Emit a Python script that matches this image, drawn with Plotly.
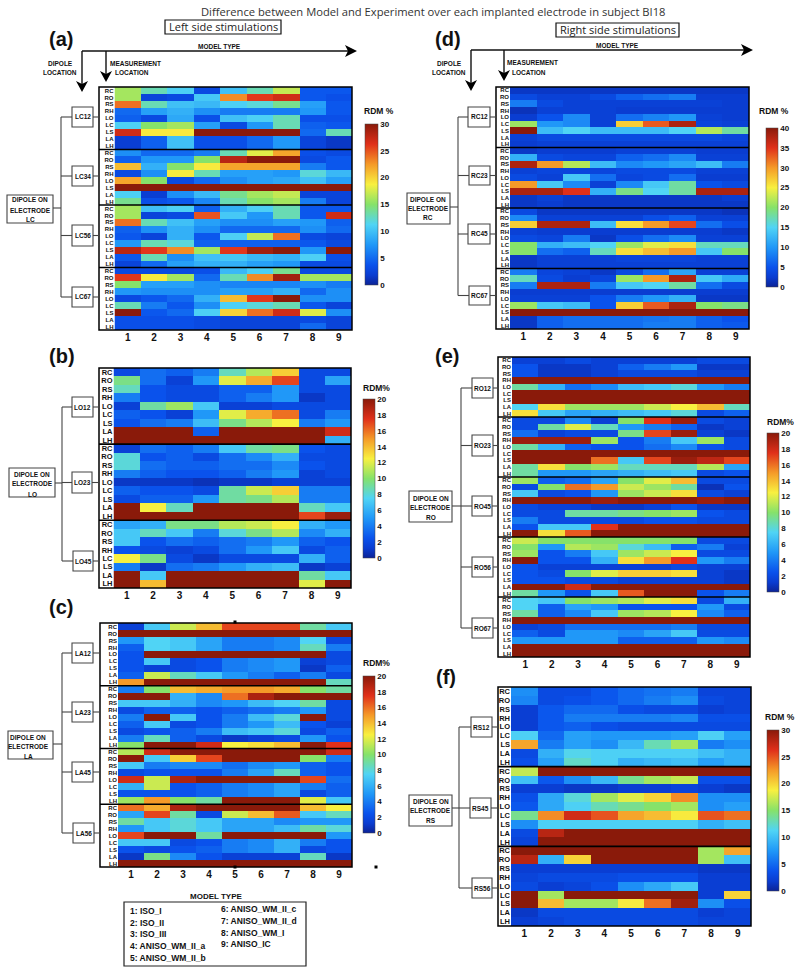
import plotly.graph_objects as go

W, H = 800, 974
title_text = "Difference between Model and Experiment over each implanted electrode in subject BI18"
model_cols = [1, 2, 3, 4, 5, 6, 7, 8, 9]
col_labels = ["1", "2", "3", "4", "5", "6", "7", "8", "9"]
FULL = ["RC", "RO", "RS", "RH", "LO", "LC", "LS", "LA", "LH"]
NO_LC = ["RC", "RO", "RS", "RH", "LO", "LS", "LA", "LH"]
NO_LO = ["RC", "RO", "RS", "RH", "LC", "LS", "LA", "LH"]
NO_LA = ["RC", "RO", "RS", "RH", "LO", "LC", "LS", "LH"]

rows_a = FULL + NO_LC + FULL + FULL
groups_a = [9, 8, 9, 9]
values_a = [
 [16,13,11,3,10,13,17,4,4],[16,2.5,3,10.5,23,26,27,4,3.5],[24,13,10,9.5,11,12,14,8,4],[5,8,9,7,6,6,6,7.5,4],
 [4.5,3,8.5,3.5,10,11,13,3.5,3.5],[11,15,16,8,3,7.5,13,4.5,4],[27,19,19,30,30,30,30,5,13],[2,4.5,10,3.5,3.5,5,7.5,2.5,1.5],[2,4.5,10,3.5,3.5,5,7.5,2.5,1.5],
 [7,5,5,6,13,18,22,3.5,3],[4.5,7.5,7.5,15,28,30,30,3,4],[21,9,15,19,22,22,22,6,4],[3,7,19,13,8,8,7.5,12,9.5],
 [22,15,3,5,7,8,8.5,10,8],[30,30,30,30,30,30,30,30,30],[11,2,7,9.5,14,16,17,2.5,2.5],[14,3.5,4,6.5,13,15,16,6,2.5],
 [16,10,11,4.5,9,11,13,4,4],[16,2.5,3,25,10.5,7.5,13,4,27],[24,13,10,8,7,7,8,7.5,4.5],[4.5,7,9,7,5,5,5,7,5],
 [4,2.5,9,4,11,17,24,3,2.5],[7.5,13,12,4.5,4.5,4.5,4.5,4,3],[28,26,23,16,26,29,30,7.5,30],[4,13,7,10,10.5,9.5,9,11,3.5],[2.5,5,8,9,9,8,7.5,3,3],
 [3,3,3,3.5,9.5,11,14,3,3],[26,19,16,5,13,23,29,16,16],[15,8,8,7,6.5,6.5,6.5,7,6],[7.5,7,7,7,8,8,9,5,7],
 [3,4,5,9,21,26,30,7,7],[13,6,4,7,11,12,13,4,2.5],[30,4,5,11,20,24,27,18,7],[3.5,3.5,3.5,3,2.5,2.5,2.5,3,2.5],[3.5,3.5,3.5,3,2.5,2.5,2.5,5,2.5],
]

rows_b = FULL + FULL + NO_LO
groups_b = [9, 9, 8]
values_b = [
 [2,3.5,3,4,8.5,11,13.5,2,2],[9.5,3.5,1.5,5,12,14.5,17,2,5.5],[8.5,2.5,2,2,3,3,5,2,2],[4,2.5,2,2,3,4,5,1,2],
 [1.5,9,10.5,7,1.5,1.5,2,2,2],[3,2.5,1.5,5,12,14.5,16,2,4],[2.5,3.5,4,6.5,9.5,11,12.5,4,5],[20,20,20,3,20,20,20,20,18],[20,20,20,20,20,20,20,20,6],
 [1.5,3.5,3,4,7,9,9.5,2.5,2],[8,2.5,3,2,3.5,4.5,6,2,2],[8,3.5,3,3,3.5,3.5,4.5,2.5,2],[4,3,2.5,2.5,3,4,5,1.5,2],
 [1,1,1,0.7,1,1,1.5,1.5,1.5],[3,2.5,2.5,2,9,11.5,13.5,4,4],[2,3,3,5,9,9.5,11,4,4],[20,12.5,8.5,20,20,20,20,8.5,7],[20,20,20,20,20,20,20,17,19.5],
 [5.5,6,9.5,9.5,11,11.5,12.5,6,5],[7,8.5,7,4,8,9.5,11,4.5,6],[7,2.5,3.5,3,3.5,4,5,3,2.5],[2.5,2,1.5,2,3.5,5,7,2,3],
 [12.5,9.5,2,1,2,2,2,6,3],[4,1,3.5,4,5,6,6.5,1,1.5],[20,7,20,20,20,20,20,9,7],[20,14,20,20,20,20,20,12,20],
]

rows_c = FULL + FULL + NO_LA + FULL
groups_c = [9, 9, 8, 9]
values_c = [
 [1.5,7,11.5,14,17,17,17,9,7],[20,20,20,20,20,20,20,20,20],[5,7.5,7,5.5,4,4,4.5,7.5,2],[3,7.5,7,5.5,4,4,4.5,8.5,4],
 [2.5,20,20,20,20,20,20,20,2],[2.5,7,2,2.5,4,4.5,5,1.5,2],[2.5,1.5,2,2.5,4,4.5,5,1,3],[3,11.5,8.5,7,5,4,3,4,2],[15,20,20,20,20,20,20,20,8.5],
 [4,10,14,14.5,15,15,14.5,10,9],[20,20,6,4.5,16,19,20,20,20],[7,7,6,4.5,5,6.5,7.5,9,2],[2,3,3,2.5,3,3.5,4,5,2],
 [4,20,7,2.5,4,6.5,8,20,2],[3,7,2,2.5,4,5,6.5,2.5,1.5],[2,2.5,3,4,6.5,7,8,2,3],[4,8.5,3,2,1,1.5,2,5,2.5],[10,20,20,18,12.5,13,14,20,17.5],
 [11,18,20,20,20,20,20,20,18],[20,7,13.5,17,20,20,20,10,4],[7,4,4.5,4.5,3.5,4.5,5,3,2.5],[2,2.5,2.5,2.5,4,5.5,8.5,3,2.5],
 [18,11.5,19,20,20,20,20,17,3.5],[6,11.5,2.5,3,4,4.5,5.5,4,3],[2.5,2.5,2.5,3,4,4.5,5.5,2,3],[10.5,15,10,9,20,20,20,12,7],
 [16,14.5,19,20,20,20,20,14,12.5],[5.5,17,9,2,11.5,14,16.5,7,8.5],[9,7,8,7,5.5,5.5,4.5,5,5],[5,7,8,7,5.5,5.5,6.5,9,8],
 [17,20,20,9,20,20,20,20,5],[7,7,2,2.5,4,4.5,6,4,2.5],[2.5,2,2.5,3,4,4.5,6,2,2.5],[1,9.5,4.5,2.5,1.5,1.5,1.5,8.5,1],[20,20,20,20,20,20,20,20,20],
]

rows_d = FULL * 4
groups_d = [9, 9, 9, 9]
values_d = [
 [2,2,2,2,2,2,2,2,2],[4,3,3,4,6,7,8,2.5,2.5],[8,4,3,3,3,3,3,3,2.5],[1.5,3,3,3,2.5,2.5,2.5,2.5,2.5],
 [2.5,5,9,3,7,8.5,10,3,2.5],[21,10,9,3,27,33,38,3.5,3],[40,13,15,13,13,13,15,22,18],[3,4,4,4,4,4,4,4,3.5],[2.5,3,3,3,3,3,3,3,3],
 [2,2.5,2.5,2.5,3,3,3,2.5,2.5],[12,4,3.5,3.5,6,7,9,3,3],[38,30,22,13,9,10,11,13,8],[3,3.5,3.5,3.5,4,4,4,3,3],
 [4,3,14,7,3.5,4,7,2.5,2.5],[30,14,9,3,9,14,18,5,4],[38,38,35,12,19,15,18,38,38],[2,3,2,2,2,2,2,2,2.5],[2,2.5,2,2,2,2,2,2,2],
 [4,2,2,2,2,2,2,2,1.5],[9,3,3,3,3,4.5,6,3,3],[27,38,38,13,26,30,34,7,4.5],[3,2.5,2.5,2.5,2.5,2.5,2.5,2.5,2],
 [4,3.5,8,2,4.5,7,9,3,3],[20,12,13,15,21,24,26,17,17],[20,7,6,17,26,28,30,14,20],[2,3,3,3,3.5,3.5,3.5,3,3],[2,3,3,3,3,3,3,3,3],
 [8,3.5,3,2,4,7,11,3,3],[17,4,2.5,3.5,21,30,38,14,11.5],[8,38,38,8,14,15,18,7,4],[2.5,2.5,2.5,2.5,2.5,2.5,2.5,2.5,2.5],
 [3,3,3,5,8,10,12,2,2],[21,14,13,5,27,33,38,20,19],[40,40,40,40,40,40,40,40,40],[2,6,7,7,7,7.5,8,6,5],[2,6,7,7,7,8,8,6,5.5],
]

rows_e = FULL * 5
groups_e = [9, 9, 9, 9, 9]
values_e = [
 [1.5,1.5,2,1.5,1.5,1.5,1.5,2,2],[2.5,1,1,1.5,3,4,5,1,1],[2.5,1,1,1.5,2,2,2,1.5,1.5],[20,20,20,20,20,20,20,20,20],
 [9,6,3.5,4.5,6.5,7,8,5,4],[20,20,20,20,20,20,20,20,20],[20,20,20,20,20,20,20,20,20],[7.5,13,10.5,10.5,10.5,11.5,12.5,14,8.5],[13,7,5.5,6,6.5,7,8,2,3],
 [2,2,4.5,1.5,10,17.5,19.5,2,1.5],[2,9,12,8.5,5,4,3,1,1.5],[3.5,1.5,2,2,9.5,17,19.5,1.5,1],[19.5,19.5,19.5,10.5,2.5,4,7,10.5,2],
 [9,6,3,2.5,2.5,3.5,4.5,2.5,2],[20,20,20,20,20,20,20,20,20],[20,20,20,16,7,17,19.5,18.5,17],[9,13,10,10.5,8.5,8.5,8.5,11,5.5],[9,5,5,5.5,6,6.5,7,2,2.5],
 [10.5,3,3.5,5.5,10,12,14,2,2],[2,10,16,15,11.5,10.5,9,0.7,2.5],[7,2,2.5,5,10.5,11.5,13,2,1.5],[20,20,20,19.5,20,20,20,19.5,20],
 [2,1.5,1.5,1,1,1.5,2.5,1,1],[2,2,9,9,9.5,10,10.5,2.5,2],[4,2,2,2,2,2.5,2.5,2,2],[2.5,7,7,17.5,20,20,20,20,20],[20,13,16.5,20,20,20,20,20,20],
 [11.5,10,10,10,10,10,10,2,2],[10,5,11,10.5,8,6.5,3,4,1.5],[10.5,2.5,4,7,10.5,11.5,12.5,2,2],[20,2.5,2.5,6,13,15,17.5,5,4],
 [2.5,1.5,1.5,1.5,1.5,1.5,2,1.5,1.5],[2.5,2,10,12,13.5,13.5,13,1.5,1],[2.5,2.5,2,2,1.5,1.5,1.5,1.5,1],[20,20,18,20,20,20,20,20,20],[9,5,2.5,7,16.5,20,20,2.5,4],
 [7.5,7,10,10.5,11,12,13,2,6],[7.5,3,5.5,5,2.5,2.5,2.5,5,2],[9,3,4.5,7,10.5,11,12.5,4.5,3],[20,20,20,20,20,20,20,20,20],
 [1.5,2,3.5,3.5,3.5,3.5,4,2,2],[3,2,5,5,4.5,5.5,7,2,2],[5,5,5,5,3,3,3,5,4.5],[20,20,20,20,20,20,20,20,20],[20,20,20,20,20,20,20,20,20],
]

rows_f = FULL * 3
groups_f = [9, 9, 9]
values_f = [
 [7,3,3,4,5,5.5,6,2.5,2.5],[6.5,3,3.5,4,5,6,7,3,2.5],[2,4,5,5,3.5,3,3,2,2.5],[2,4,6,6,6,6,6.5,3.5,3.5],
 [2,4,4.5,3.5,3,3,3,3,3],[11,5,8,7.5,7.5,7.5,8,11,8],[22,6,8,7,9.5,13,16,6,7],[3,9,11.5,11,11,11,11,10,9],[3.5,8,12.5,11,9,9.5,10,8,9],
 [17,30,30,30,30,30,30,30,30],[10,4,7,9.5,14,16,17,3.5,3.5],[2,2,1.5,1.5,2,2,2.5,2,1.5],[3.5,8.5,12,16,18,20,23,7,7],
 [4,8.5,11,13,14,15,16,7,8],[14,23,27,25,22,21,19,25,24],[7,11,11,11,11,11,11,9,10],[3,28,30,30,30,30,30,30,30],[2.5,30,30,30,30,30,30,30,30],
 [30,30,30,30,30,30,30,16,22],[28,9,20,30,30,30,30,16,10],[2,2,2,2,2,2,2,1.5,1.5],[2.5,3,3,3,3.5,3.5,3.5,2,2],
 [3,2,2.5,3.5,7,8.5,10.5,2,2],[30,16,30,30,30,30,30,2,20],[30,21,16,16,19,24,29,7,3.5],[1.5,3,3,3,3,3,3,2,2.5],[2,2.5,3,3,3,3,3,2.5,2.5],
]

legend_left = ["1: ISO_I", "2: ISO_II", "3: ISO_III", "4: ANISO_WM_II_a", "5: ANISO_WM_II_b"]
legend_right = ["6: ANISO_WM_II_c", "7: ANISO_WM_II_d", "8: ANISO_WM_I", "9: ANISO_IC"]

JET = [[0, "#0c2396"], [0.06, "#0a3cd0"], [0.125, "#0a52ec"], [0.25, "#2098f8"], [0.375, "#50d4f5"], [0.5, "#86e26a"],
       [0.625, "#f8f040"], [0.75, "#f59a28"], [0.875, "#e0301a"], [1, "#8a1a0a"]]
FONT = "Liberation Sans"


def X(p):
    return p / W


def Y(p):
    return 1 - p / H


fig = go.Figure()
shapes, notes = [], []


def text(x, y, s, size=6.5, bold=True, anchor="center", family=FONT, color="#111"):
    notes.append(dict(x=X(x), y=Y(y), xref="paper", yref="paper", text=s, showarrow=False,
                      xanchor=anchor, yanchor="middle", borderpad=0,
                      font=dict(size=size, family=family, color=color, weight="bold" if bold else "normal")))


def line(x0, y0, x1, y1, color="#444", width=1.1):
    shapes.append(dict(type="line", xref="paper", yref="paper", x0=X(x0), y0=Y(y0), x1=X(x1), y1=Y(y1),
                       line=dict(color=color, width=width)))


def box(x0, y0, x1, y1, color="#444", width=1.1):
    shapes.append(dict(type="rect", xref="paper", yref="paper", x0=X(x0), y0=Y(y0), x1=X(x1), y1=Y(y1),
                       line=dict(color=color, width=width), fillcolor="rgba(0,0,0,0)"))


def tri(pts):
    d = "M " + " L ".join(f"{X(a):.5f} {Y(b):.5f}" for a, b in pts) + " Z"
    shapes.append(dict(type="path", xref="paper", yref="paper", path=d, fillcolor="#000", line=dict(width=0)))


def panel(n, values, rows, groups, zmax, dtick, frame, cell_x0, cbar, cbar_title, title_xy, row_font):
    ax = "" if n == 1 else str(n)
    x0, y0, x1, y1 = frame
    fig.add_trace(go.Heatmap(x=model_cols, y=list(range(len(rows))), z=values, xaxis="x" + ax, yaxis="y" + ax,
                             coloraxis="coloraxis" + ax, xgap=0, ygap=0, hoverinfo="skip"))
    tick = dict(size=row_font, family=FONT, color="#111", weight="bold")
    fig.layout["xaxis" + ax] = dict(domain=[X(cell_x0), X(x1)], anchor="y" + ax, tickmode="array", tickvals=model_cols,
                                    ticktext=col_labels, ticks="", showgrid=False, zeroline=False, showline=False,
                                    tickfont=dict(size=10, family=FONT, color="#111", weight="bold"))
    fig.layout["yaxis" + ax] = dict(domain=[Y(y1), Y(y0)], anchor="x" + ax, autorange="reversed", tickmode="array",
                                    tickvals=list(range(len(rows))), ticktext=rows, ticks="", showgrid=False,
                                    zeroline=False, showline=False, tickfont=tick)
    pos = -0.5
    for g in groups[:-1]:
        pos += g
        shapes.append(dict(type="line", xref="paper", yref="y" + ax, x0=X(x0), x1=X(x1), y0=pos, y1=pos,
                           line=dict(color="#000", width=1.6)))
    box(x0, y0, x1, y1, color="#000", width=1.5)
    cx0, cy0, cx1, cy1 = cbar
    fig.layout["coloraxis" + ax] = dict(
        cmin=0, cmax=zmax, colorscale=JET,
        colorbar=dict(x=X(cx0), xanchor="left", xpad=0, ypad=0, y=Y(cy1), yanchor="bottom", lenmode="pixels", len=cy1 - cy0,
                      thicknessmode="pixels", thickness=cx1 - cx0, tickmode="linear", tick0=0, dtick=dtick, ticks="",
                      outlinewidth=0.5, outlinecolor="#444", ticklabelposition="outside",
                      tickfont=dict(size=8, family=FONT, color="#111", weight="bold")))
    text(title_xy[0], title_xy[1], cbar_title, size=8.5)


def diagram(letter, letter_xy, labels, boxes, vx, dipole_box, dipole_y, lines3, text_x, text_ys):
    text(letter_xy[0], letter_xy[1], letter, size=20)
    ys = []
    for lab, (a, b, c, d) in zip(labels, boxes):
        box(a, b, c, d)
        m = (b + d) / 2
        ys.append(m)
        line(vx, m, a, m)
        text((a + c) / 2, m, lab, size=6.5)
    line(vx, ys[0], vx, ys[-1])
    for lab, (a, b, c, d) in zip(labels, boxes):
        line(c, (b + d) / 2, c + 6, (b + d) / 2)
    box(*dipole_box)
    line(dipole_box[2], dipole_y, vx, dipole_y)
    for s, yy in zip(lines3, text_ys):
        text(text_x, yy, s, size=6.5)


def top_arrows(x_a, x_b, y, x_end, head_a, head_b):
    line(x_a, y, x_end - 6, y, color="#111", width=1.4)
    tri([(x_end, y), (x_end - 12, y - 6), (x_end - 9, y), (x_end - 12, y + 6)])
    line(x_a, y, x_a, head_a - 6, color="#111", width=1.4)
    tri([(x_a - 6, head_a - 11), (x_a, head_a - 8), (x_a + 6, head_a - 11), (x_a, head_a)])
    line(x_b, y, x_b, head_b - 6, color="#111", width=1.4)
    tri([(x_b - 6, head_b - 11), (x_b, head_b - 8), (x_b + 6, head_b - 11), (x_b, head_b)])


panel(1, values_a, rows_a, groups_a, 30, 5, (99, 87, 352, 330), 114.5, (365, 124, 378, 285), "RDM %", (379, 111), 6)
panel(2, values_b, rows_b, groups_b, 20, 2, (99, 368, 351, 588), 113.5, (363, 399, 375, 558), "RDM%", (376, 388), 7.5)
panel(3, values_c, rows_c, groups_c, 20, 2, (100, 623, 352, 867), 118, (363, 676, 375, 833), "RDM%", (376, 663), 6)
panel(4, values_d, rows_d, groups_d, 40, 5, (496, 87, 749, 329), 510, (766, 128, 778, 287), "RDM %", (774, 111), 6)
panel(5, values_e, rows_e, groups_e, 20, 2, (498, 357, 750, 657), 512, (767, 433, 779, 592), "RDM%", (780, 422), 6)
panel(6, values_f, rows_f, groups_f, 30, 5, (498, 687, 751, 926), 511, (767, 730, 779, 891), "RDM %", (780, 717), 7.5)

DIP = "DIPOLE ON"
ELE = "ELECTRODE"
diagram("(a)", (61, 39), ["LC12", "LC34", "LC56", "LC67"],
        [(72, 107, 93, 127), (72, 166, 93, 186), (72, 225, 93, 246), (72, 287, 93, 307)],
        61, (7, 195, 53, 223), 208, [DIP, ELE, "LC"], 30, [200, 210, 219])
diagram("(b)", (62, 356), ["LO12", "LO23", "LO45"],
        [(72, 397, 93, 417), (72, 472, 92, 493), (73, 551, 93, 571)],
        62, (9, 468, 55, 497), 483, [DIP, ELE, "LO"], 32, [475, 484, 494])
diagram("(c)", (61, 607), ["LA12", "LA23", "LA45", "LA56"],
        [(72, 643, 93, 663), (72, 702, 93, 722), (72, 762, 93, 782), (73, 823, 94, 843)],
        62, (8, 731, 53, 759), 744, [DIP, ELE, "LA"], 28, [737, 746, 756])
diagram("(d)", (448, 39), ["RC12", "RC23", "RC45", "RC67"],
        [(468, 107, 490, 127), (469, 166, 490, 185), (468, 224, 490, 244), (469, 286, 490, 305)],
        458, (407, 193, 450, 224), 207, [DIP, ELE, "RC"], 428, [200, 209, 218])
diagram("(e)", (447, 356), ["RO12", "RO23", "RO45", "RO56", "RO67"],
        [(472, 378, 493, 398), (472, 435, 493, 456), (472, 496, 492, 516), (472, 557, 493, 577), (472, 618, 493, 638)],
        461, (409, 491, 452, 522), 506, [DIP, ELE, "RO"], 431, [498, 507, 517])
diagram("(f)", (446, 677), ["RS12", "RS45", "RS56"],
        [(471, 717, 492, 737), (470, 798, 491, 818), (472, 878, 492, 898)],
        459, (409, 795, 452, 826), 808, [DIP, ELE, "RS"], 431, [801, 810, 820])

top_arrows(82, 106, 51, 357, 92, 82)
top_arrows(471, 504, 50, 753, 91, 81)
text(219, 47, "MODEL TYPE")
text(60, 64, "DIPOLE")
text(60, 73, "LOCATION")
text(135, 64, "MEASUREMENT")
text(132, 73, "LOCATION")
text(617, 46, "MODEL TYPE")
text(449, 64, "DIPOLE")
text(449, 73, "LOCATION")
text(532, 63, "MEASUREMENT")
text(529, 73, "LOCATION")

text(433, 12, title_text, size=11.2, bold=False, family="Open Sans", color="#333")
box(165, 20, 281, 34, color="#111", width=1.2)
text(223, 27, "Left side stimulations", size=11, bold=False, family="Open Sans", color="#222")
box(556, 23, 679, 37, color="#111", width=1.2)
text(618, 30, "Right side stimulations", size=11, bold=False, family="Open Sans", color="#222")

text(216, 896, "MODEL TYPE", size=8)
box(124, 902, 306, 966, color="#222", width=1.2)
for s, yy in zip(legend_left, [911, 923, 934, 946, 958]):
    text(129, yy, s, size=8.5, anchor="left")
for s, yy in zip(legend_right, [909, 921, 933, 944]):
    text(220, yy, s, size=8.5, anchor="left")

for mx, my in [(376, 867), (235, 622), (235, 867)]:
    shapes.append(dict(type="rect", xref="paper", yref="paper", x0=X(mx - 1.5), x1=X(mx + 1.5), y0=Y(my - 1.5), y1=Y(my + 1.5),
                       fillcolor="#000", line=dict(width=0)))

fig.update_layout(width=W, height=H, autosize=False, margin=dict(l=0, r=0, t=0, b=0), paper_bgcolor="white",
                  plot_bgcolor="white", showlegend=False, shapes=shapes, annotations=notes)
fig.write_html("out.html", config=dict(displayModeBar=False), post_script="document.body.style.margin='0';")
